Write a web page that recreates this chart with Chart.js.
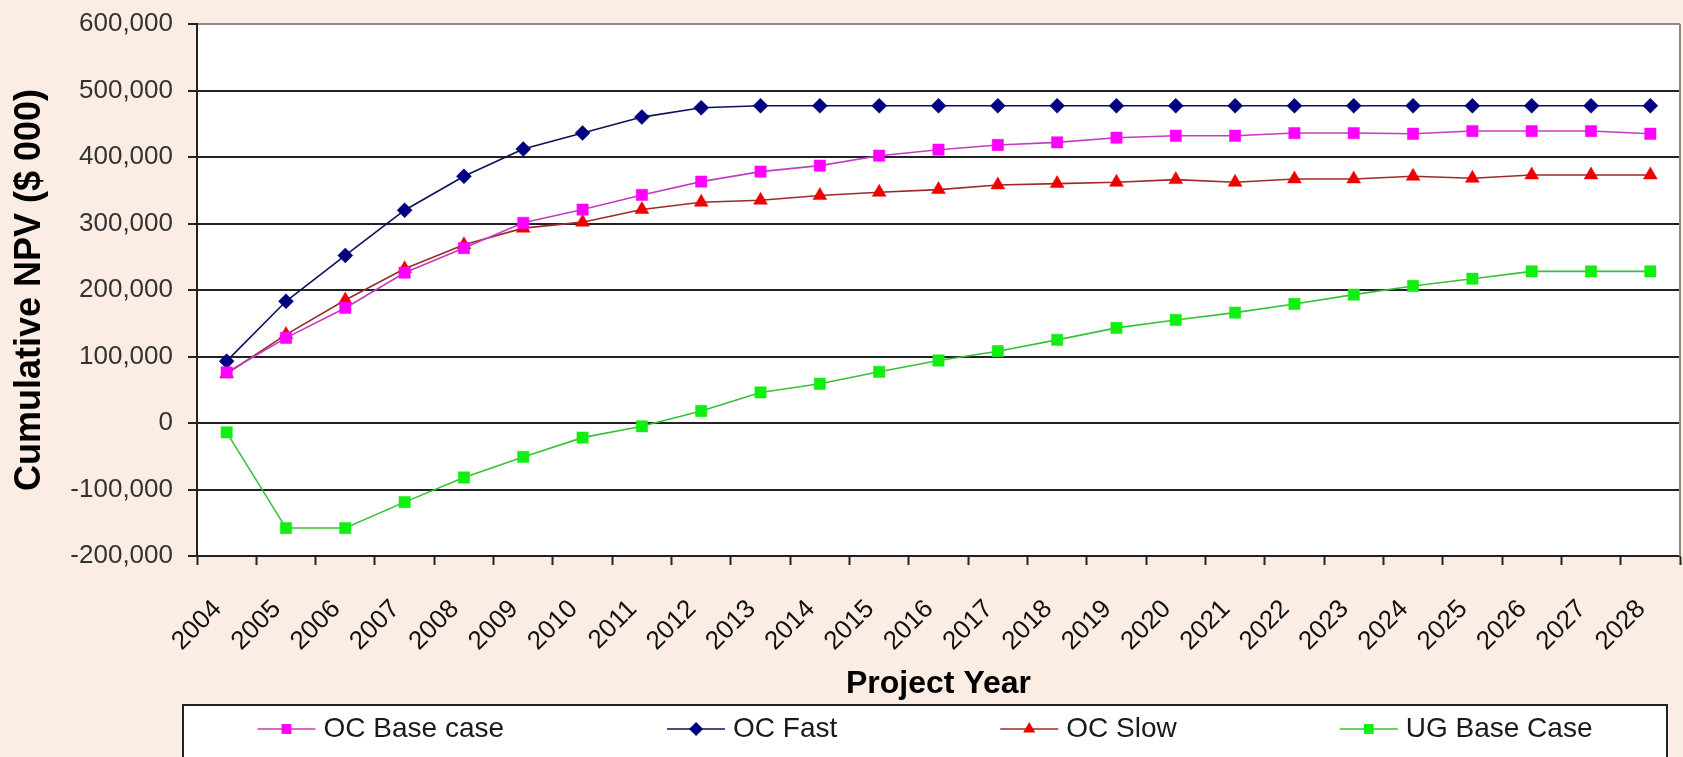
<!DOCTYPE html>
<html>
<head>
<meta charset="utf-8">
<script src="https://cdn.jsdelivr.net/npm/chart.js@4.4.1/dist/chart.umd.min.js"></script>
<style>
  html, body { margin: 0; padding: 0; background: #fbece4; }
  #wrap { width: 1683px; height: 757px; position: relative; }
</style>
</head>
<body>
<div id="wrap"><canvas id="npv" width="1683" height="757"></canvas></div>
<script>
// Project years on the category axis
const years = ['2004','2005','2006','2007','2008','2009','2010','2011','2012','2013','2014','2015','2016',
               '2017','2018','2019','2020','2021','2022','2023','2024','2025','2026','2027','2028'];

// Cumulative NPV per scenario ($ 000)
const ocBaseCase = [76000,128000,173000,226000,263000,301000,321000,343000,363000,378000,387000,402000,411000,
                    418000,422000,429000,432000,432000,436000,436000,435000,439000,439000,439000,435000];
const ocFast     = [93000,183000,252000,320000,371000,412000,436000,460000,474000,477000,477000,477000,477000,
                    477000,477000,477000,477000,477000,477000,477000,477000,477000,477000,477000,477000];
const ocSlow     = [74000,133000,185000,232000,268000,293000,302000,321000,332000,335000,342000,347000,351000,
                    358000,360000,362000,366000,362000,367000,367000,371000,368000,373000,373000,373000];
const ugBaseCase = [-14000,-158000,-158000,-119000,-82000,-51000,-22000,-5000,18000,46000,59000,77000,94000,
                    108000,125000,143000,155000,166000,179000,193000,206000,217000,228000,228000,228000];

// Value axis range and step
const yMin = -200000, yMax = 600000, yStep = 100000;

const FONT = '"Liberation Sans", Arial, sans-serif';
const PAGE_BG = '#fbece4';

const seriesStyle = [
  { label: 'OC Base case', data: ocBaseCase, line: '#c23dc2', fill: '#ff00ff', shape: 'rect',     r: 8 },
  { label: 'OC Fast',      data: ocFast,     line: '#10105a', fill: '#000080', shape: 'rectRot',  r: 7.5 },
  { label: 'OC Slow',      data: ocSlow,     line: '#9c2a2a', fill: '#ee0000', shape: 'triangle', r: 8 },
  { label: 'UG Base Case', data: ugBaseCase, line: '#36c236', fill: '#11ee11', shape: 'rect',     r: 8 }
];

const datasets = seriesStyle.map(s => ({
  label: s.label,
  data: s.data,
  borderColor: s.line,
  borderWidth: 1.6,
  backgroundColor: s.fill,
  pointStyle: s.shape,
  pointRadius: s.r,
  pointHoverRadius: s.r,
  pointBackgroundColor: s.fill,
  pointBorderColor: s.fill,
  pointBorderWidth: 0.5,
  tension: 0
}));

// Page background, white plot area and the right-hand frame edge
const frame = {
  id: 'frame',
  beforeDraw(chart) {
    const { ctx, chartArea: a } = chart;
    ctx.save();
    ctx.fillStyle = PAGE_BG;
    ctx.fillRect(0, 0, chart.width, chart.height);
    ctx.fillStyle = '#ffffff';
    ctx.fillRect(a.left, a.top, a.right - a.left, a.bottom - a.top);
    ctx.restore();
  },
  afterDraw(chart) {
    const { ctx, chartArea: a } = chart;
    ctx.save();
    ctx.strokeStyle = '#8a8a8a';
    ctx.lineWidth = 2;
    ctx.beginPath();
    ctx.moveTo(a.right, a.top);
    ctx.lineTo(a.right, a.bottom);
    ctx.stroke();
    ctx.restore();
  }
};

// Boxed legend along the bottom: line sample with marker, then the series name
function drawMarker(ctx, shape, x, y, r) {
  ctx.beginPath();
  if (shape === 'rect') {
    const s = r * Math.SQRT1_2;
    ctx.rect(x - s, y - s, 2 * s, 2 * s);
  } else if (shape === 'rectRot') {
    ctx.moveTo(x, y - r); ctx.lineTo(x + r, y); ctx.lineTo(x, y + r); ctx.lineTo(x - r, y);
    ctx.closePath();
  } else {
    const h = r * 0.866;
    ctx.moveTo(x, y - r); ctx.lineTo(x + h, y + r / 2); ctx.lineTo(x - h, y + r / 2);
    ctx.closePath();
  }
  ctx.fill();
}

const boxLegend = {
  id: 'boxLegend',
  afterDraw(chart) {
    const { ctx } = chart;
    const box = { left: 183, right: 1667, top: 705, bottom: 760 };
    const cy = 729, sample = 58, gapText = 8, gapItem = 163;
    ctx.save();
    ctx.fillStyle = '#ffffff';
    ctx.fillRect(box.left, box.top, box.right - box.left, box.bottom - box.top);
    ctx.strokeStyle = '#222222';
    ctx.lineWidth = 2;
    ctx.strokeRect(box.left, box.top, box.right - box.left, box.bottom - box.top);

    ctx.font = '28px ' + FONT;
    const ds = chart.data.datasets;
    const widths = ds.map(d => sample + gapText + ctx.measureText(d.label).width);
    const total = widths.reduce((a, b) => a + b, 0) + gapItem * (ds.length - 1);
    let x = (box.left + box.right) / 2 - total / 2;
    ds.forEach((d, i) => {
      ctx.strokeStyle = d.borderColor;
      ctx.lineWidth = 1.6;
      ctx.beginPath();
      ctx.moveTo(x, cy); ctx.lineTo(x + sample, cy);
      ctx.stroke();
      ctx.fillStyle = d.pointBackgroundColor;
      drawMarker(ctx, d.pointStyle, x + sample / 2, cy, 7);
      ctx.fillStyle = '#1a1a1a';
      ctx.textAlign = 'left';
      ctx.textBaseline = 'middle';
      ctx.fillText(d.label, x + sample + gapText, cy);
      x += widths[i] + gapItem;
    });
    ctx.restore();
  }
};

new Chart(document.getElementById('npv'), {
  type: 'line',
  data: { labels: years, datasets },
  plugins: [frame, boxLegend],
  options: {
    responsive: false,
    animation: false,
    devicePixelRatio: 1,
    layout: { autoPadding: false, padding: { top: 24, right: 3, left: 0, bottom: 0 } },
    plugins: { legend: { display: false }, tooltip: { enabled: false } },
    scales: {
      x: {
        offset: true,
        afterFit(scale) { scale.height = 201; scale.paddingLeft = 0; scale.paddingRight = 0; },
        grid: {
          offset: true,
          drawOnChartArea: false,
          drawTicks: true,
          tickLength: 9,
          tickWidth: 2,
          tickColor: '#222222'
        },
        border: { display: true, color: '#222222', width: 2 },
        ticks: {
          autoSkip: false,
          minRotation: 45,
          maxRotation: 45,
          padding: 29,
          labelOffset: -9,
          color: '#111111',
          font: { family: FONT, size: 26 }
        },
        title: {
          display: true,
          text: 'Project Year',
          color: '#000000',
          font: { family: FONT, size: 32, weight: 'bold' },
          padding: { top: 0, bottom: 54 }
        }
      },
      y: {
        min: yMin,
        max: yMax,
        afterFit(scale) { scale.width = 197; scale.paddingTop = 0; scale.paddingBottom = 0; },
        grid: {
          color: ctx => (ctx.tick && ctx.tick.value === yMax) ? '#8a8a8a' : '#222222',
          lineWidth: 2,
          drawTicks: true,
          tickLength: 9,
          tickColor: '#222222'
        },
        border: { display: true, color: '#222222', width: 2 },
        ticks: {
          stepSize: yStep,
          padding: 15,
          color: '#333333',
          font: { family: FONT, size: 26 },
          callback: v => Number(v).toLocaleString('en-US')
        },
        title: {
          display: true,
          text: 'Cumulative NPV ($ 000)',
          color: '#000000',
          font: { family: FONT, size: 36, weight: 'bold' },
          padding: { top: 8, bottom: 0 }
        }
      }
    }
  }
});
</script>
</body>
</html>
